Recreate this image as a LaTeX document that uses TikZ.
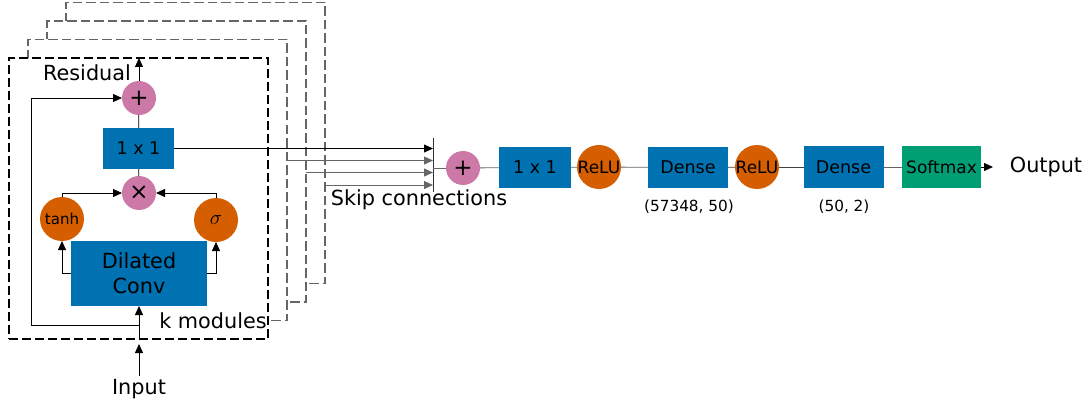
\documentclass[tikz,border=0pt]{standalone}
\usepackage{fontspec}
\setmainfont{DejaVu Sans}
\usetikzlibrary{arrows.meta,calc}
\definecolor{cblue}{HTML}{0072B2}
\definecolor{corange}{HTML}{D55E00}
\definecolor{cpink}{HTML}{CC79A7}
\definecolor{cgreen}{HTML}{009E73}
\definecolor{cgray}{HTML}{666666}
\begin{document}
\begin{tikzpicture}[x=1pt,y=-1pt,
  big/.style={font=\fontsize{20.8}{25}\selectfont},
  mid/.style={font=\fontsize{17.5}{20}\selectfont},
  small/.style={font=\fontsize{15.3}{18}\selectfont},
  modgray/.style={draw=cgray,fill=white,line width=1.4pt,dash pattern=on 9.5pt off 4pt,minimum width=259pt,minimum height=281pt,inner sep=0pt,outer sep=0pt},
  modmain/.style={modgray,draw=black,dash pattern=on 9pt off 4pt},
  bluebox/.style={fill=cblue,inner sep=0pt,outer sep=0pt,mid},
  greenbox/.style={fill=cgreen,inner sep=0pt,outer sep=0pt,font=\fontsize{17}{20}\selectfont},
  ocirc/.style={circle,fill=corange,minimum size=44pt,inner sep=0pt,outer sep=0pt},
  pcirc/.style={circle,fill=cpink,minimum size=34pt,inner sep=0pt,outer sep=0pt,font=\fontsize{23}{24}\selectfont},
  arr/.style={-{Triangle[length=9pt,width=8pt]},line width=0.8pt},
  garr/.style={arr,draw=cgray,-{Triangle[length=9pt,width=8pt,fill=cgray]}},
  ln/.style={line width=0.8pt},
  gln/.style={line width=0.8pt,draw=cgray}
]
\useasboundingbox (0,0) rectangle (1089,409);
% stacked modules
\node[modgray] (m3) at (195.5,143) {};
\node[modgray] (m2) at (176.5,161.5) {};
\node[modgray] (m1) at (157.5,180) {};
\node[modmain] (m0) at (138.5,198.5) {};
% main module contents
\node[pcirc] (p1) at (139,98) {+};
\node[bluebox,minimum width=71pt,minimum height=41pt] (c1) at (138.5,148.5) {1 x 1};
\node[pcirc] (mul) at (139,193) {×};
\node[ocirc,font=\fontsize{15}{16}\selectfont] (th) at (62,219) {tanh};
\node[ocirc,font=\fontsize{21}{22}\selectfont] (sg) at (216,220) {$\sigma$};
\node[bluebox,big,align=center,minimum width=136pt,minimum height=65pt] (dc) at (139,273.5) {Dilated\\Conv};
\node[big] (res) at (87,73) {Residual};
\node[big] (km) at (213,321) {k modules};
\node[big] (in) at (139,389) {Input};
\coordinate (rb) at (31,325);
\draw[arr] (dc.west) -| (th.south);
\draw[arr] (dc.east) -| (sg.south);
\draw[arr] (th.north) |- (mul.west);
\draw[arr] (sg.north) |- (mul.east);
\draw[ln] (mul) -- (c1);
\draw[ln] (c1) -- (p1);
\draw[arr] (p1.north) -- (p1.north |- m0.north);
\draw[arr] (in.north) -- (in.north |- 0,344);
\draw[arr] (dc.south |- m0.south) -- (dc.south);
\draw[arr] (dc.south |- rb) -- (rb) |- (p1.west);
% skip connections
\coordinate (jt) at (433,138);
\coordinate (jb) at (433,192);
\draw[line width=1pt,draw=black!80] (jt) -- (jb);
\draw[arr] (c1.east) -- (c1.east -| jt);
\draw[garr] (m1.east |- 0,160.5) -- (jt |- 0,160.5);
\draw[garr] (m2.east |- 0,172.5) -- (jt |- 0,172.5);
\draw[garr] (m3.east |- 0,185) -- (jt |- 0,185);
\node[big] (skip) at (419,200) {Skip connections};
% head
\node[pcirc] (p2) at (463,168) {+};
\node[bluebox,minimum width=72pt,minimum height=41pt] (c2) at (535,167.5) {1 x 1};
\node[ocirc,font=\fontsize{17}{18}\selectfont] (r1) at (599,167) {\makebox[0pt][c]{ReLU}};
\node[bluebox,minimum width=80pt,minimum height=41pt] (d1) at (688,167.5) {Dense};
\node[ocirc,font=\fontsize{17}{18}\selectfont] (r2) at (757,167) {\makebox[0pt][c]{ReLU}};
\node[bluebox,minimum width=80pt,minimum height=42pt] (d2) at (843.5,167) {Dense};
\node[greenbox,minimum width=79pt,minimum height=42pt] (sm) at (941.5,167) {Softmax};
\coordinate (oe) at (993,167);
\node[big] (out) at (1046,167) {Output};
\node[small] (l1) at (689,207) {(57348, 50)};
\node[small] (l2) at (844,207) {(50, 2)};
\draw[gln] (jt |- p2) -- (p2);
\draw[gln] (p2) -- (c2);
\draw[gln] (c2) -- (r1);
\draw[gln] (r1) -- (d1);
\draw[ln,draw=black!75] (d1) -- (r2);
\draw[ln,draw=black!75] (r2) -- (d2);
\draw[gln] (d2) -- (sm);
\draw[arr] (sm.east) -- (oe);
\end{tikzpicture}
\end{document}
